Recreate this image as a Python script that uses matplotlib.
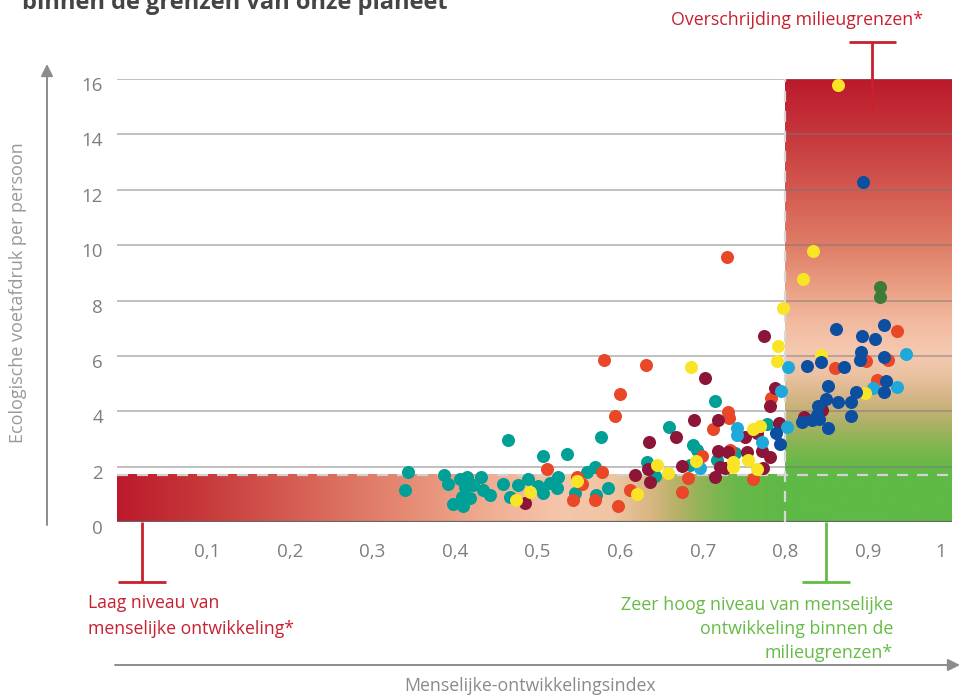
import matplotlib
matplotlib.use('Agg')
import matplotlib.pyplot as plt
import numpy as np
from matplotlib.colors import LinearSegmentedColormap
import matplotlib.transforms as mtransforms
from matplotlib.lines import Line2D

plt.rcParams['font.family'] = ['Open Sans', 'DejaVu Sans']

# ---------------- data ----------------
teal_hdi = [0.343, 0.340, 0.387, 0.392, 0.406, 0.415, 0.432, 0.412, 0.422, 0.434, 0.442,
            0.398, 0.410, 0.409, 0.418, 0.464, 0.458, 0.467, 0.476, 0.488, 0.501, 0.515,
            0.507, 0.523, 0.525, 0.507, 0.536, 0.560, 0.570, 0.545, 0.571, 0.585, 0.577,
            0.633, 0.659, 0.715, 0.688, 0.693, 0.685, 0.642, 0.739, 0.778, 0.717]
teal_fp = [1.81, 1.16, 1.70, 1.37, 1.55, 1.62, 1.62, 1.26, 1.34, 1.16, 0.97,
           0.65, 0.58, 0.90, 0.87, 2.96, 1.37, 0.90, 1.34, 1.55, 1.30, 1.41,
           1.05, 1.23, 1.62, 2.38, 2.45, 1.81, 1.99, 1.05, 0.97, 1.23, 3.07,
           2.17, 3.43, 4.37, 2.78, 2.60, 2.06, 1.66, 2.49, 3.54, 2.24]

red_hdi = [0.600, 0.594, 0.581, 0.631, 0.511, 0.578, 0.554, 0.543, 0.570, 0.597, 0.612,
           0.548, 0.675, 0.682, 0.713, 0.731, 0.732, 0.699, 0.761, 0.733, 0.783, 0.729,
           0.860, 0.898, 0.924, 0.935, 0.911]
red_fp = [4.62, 3.83, 5.85, 5.67, 1.91, 1.81, 1.37, 0.79, 0.79, 0.58, 1.16,
          1.62, 1.08, 1.59, 3.36, 3.97, 3.75, 2.38, 1.55, 2.60, 4.48, 9.57,
          5.56, 5.81, 5.85, 6.90, 5.13]

yellow_hdi = [0.864, 0.834, 0.821, 0.797, 0.791, 0.790, 0.686, 0.843, 0.896, 0.761, 0.769,
              0.737, 0.737, 0.755, 0.766, 0.692, 0.658, 0.645, 0.620, 0.548, 0.491, 0.474]
yellow_fp = [15.78, 9.78, 8.77, 7.73, 6.35, 5.81, 5.60, 6.03, 4.66, 3.36, 3.47,
             2.17, 1.99, 2.24, 1.91, 2.20, 1.77, 2.06, 1.01, 1.48, 1.08, 0.79]

maroon_hdi = [0.774, 0.703, 0.787, 0.781, 0.690, 0.719, 0.668, 0.635, 0.751, 0.766, 0.792,
              0.719, 0.731, 0.754, 0.772, 0.781, 0.721, 0.727, 0.773, 0.675, 0.634, 0.618,
              0.636, 0.715, 0.485, 0.823, 0.844]
maroon_fp = [6.71, 5.20, 4.84, 4.19, 3.68, 3.68, 3.07, 2.89, 3.07, 3.21, 3.57,
             2.56, 2.53, 2.53, 2.56, 2.35, 1.99, 1.95, 1.95, 2.02, 1.91, 1.70,
             1.44, 1.62, 0.69, 3.79, 4.04]

cyan_hdi = [0.803, 0.946, 0.795, 0.906, 0.935, 0.802, 0.741, 0.741, 0.772, 0.697]
cyan_fp = [5.60, 6.06, 4.73, 4.84, 4.87, 3.43, 3.39, 3.14, 2.89, 1.95]

blue_hdi = [0.894, 0.861, 0.920, 0.893, 0.908, 0.892, 0.890, 0.920, 0.843, 0.826, 0.871,
            0.852, 0.922, 0.919, 0.885, 0.849, 0.864, 0.880, 0.840, 0.838, 0.832, 0.820,
            0.841, 0.880, 0.852, 0.789, 0.793]
blue_fp = [12.27, 6.97, 7.11, 6.71, 6.61, 6.14, 5.85, 5.96, 5.78, 5.63, 5.60,
           4.91, 5.09, 4.69, 4.69, 4.44, 4.33, 4.33, 4.19, 3.86, 3.68, 3.61,
           3.72, 3.83, 3.39, 3.21, 2.82]

green_hdi = [0.915, 0.915]
green_fp = [8.48, 8.12]

x_tick_values = [0.1, 0.2, 0.3, 0.4, 0.5, 0.6, 0.7, 0.8, 0.9, 1.0]
x_tick_labels = ['0,1', '0,2', '0,3', '0,4', '0,5', '0,6', '0,7', '0,8', '0,9', '1']
y_tick_values = [0, 2, 4, 6, 8, 10, 12, 14, 16]
y_tick_labels = ['0', '2', '4', '6', '8', '10', '12', '14', '16']

biocapacity = 1.7
hdi_threshold = 0.8

# ---------------- figure ----------------
W, H = 960, 698
fig = plt.figure(figsize=(W / 100, H / 100), dpi=100)
ax_left, ax_right, ax_top, ax_bottom = 117, 952, 79, 522
ax = fig.add_axes([ax_left / W, (H - ax_bottom) / H,
                   (ax_right - ax_left) / W, (ax_bottom - ax_top) / H])
x0, x1 = -0.0091, 1.0018
ax.set_xlim(x0, x1)
ax.set_ylim(0, 16)
for s in ax.spines.values():
    s.set_visible(False)

# gradient bottom band (low footprint)
band_cmap = LinearSegmentedColormap.from_list('band', [
    (0.00, '#bc1a2c'), (0.12, '#c63739'), (0.30, '#d9675a'), (0.45, '#e78f77'),
    (0.57, '#f0b196'), (0.66, '#f5c5ab'), (0.74, '#efc6a3'), (0.80, '#d8b682'),
    (0.84, '#b6b167'), (0.88, '#8cb456'), (0.93, '#68b84a'), (1.00, '#5fb946')])
grad = np.linspace(0, 1, 512).reshape(1, -1)
ax.imshow(grad, extent=[x0, hdi_threshold, 0, biocapacity], cmap=band_cmap,
          aspect='auto', zorder=1, origin='lower', interpolation='bicubic')

# gradient right region (high HDI)
right_cmap = LinearSegmentedColormap.from_list('right', [
    (0.00, '#5fb946'), (0.10, '#5fb946'), (0.13, '#68b849'), (0.17, '#82b651'),
    (0.21, '#a2b25f'), (0.25, '#c4b176'), (0.29, '#d9b78a'), (0.33, '#ebc2a2'),
    (0.38, '#f5c9b1'), (0.45, '#f2bba0'), (0.52, '#eba387'), (0.63, '#de7b65'),
    (0.76, '#d2574f'), (0.88, '#c6363c'), (1.00, '#bb1a2b')])
grad_v = np.linspace(0, 1, 512).reshape(-1, 1)
ax.imshow(grad_v, extent=[hdi_threshold, x1, 0, 16], cmap=right_cmap,
          aspect='auto', zorder=1, origin='lower', interpolation='bicubic')

# gridlines
for v in y_tick_values[1:]:
    ax.axhline(v, color='#777777', alpha=0.5, lw=1.3, zorder=2)
ax.axhline(0, color='#666666', lw=1.6, zorder=3)

# dashed reference lines
ax.plot([x0, x1], [biocapacity, biocapacity], color='#d2d2d2', lw=1.6,
        dashes=(5, 4), zorder=3)
ax.plot([hdi_threshold, hdi_threshold], [0, 16], color='#d8d8d8', lw=1.6,
        dashes=(5, 4), zorder=3)

# points
ms = 88
ax.scatter(teal_hdi, teal_fp, s=ms, color='#00a096', lw=0, zorder=5)
ax.scatter(red_hdi, red_fp, s=ms, color='#ea4628', lw=0, zorder=5)
ax.scatter(maroon_hdi, maroon_fp, s=ms, color='#8c1538', lw=0, zorder=5)
ax.scatter(cyan_hdi, cyan_fp, s=ms, color='#1fa9db', lw=0, zorder=5)
ax.scatter(yellow_hdi, yellow_fp, s=ms, color='#f9e526', lw=0, zorder=6)
ax.scatter(blue_hdi, blue_fp, s=ms, color='#0c4ea0', lw=0, zorder=6)
ax.scatter(green_hdi, green_fp, s=ms, color='#3e7a38', lw=0, zorder=6)

# ticks
tick_color = '#7f7f7f'
ax.set_xticks(x_tick_values)
ax.set_xticklabels(x_tick_labels, fontsize=13.5, color=tick_color)
ax.set_yticks(y_tick_values)
ax.set_yticklabels(y_tick_labels, fontsize=13.5, color=tick_color)
ax.tick_params(axis='x', length=0, pad=15)
ax.tick_params(axis='y', length=0, pad=10)
for lab in ax.get_yticklabels():
    lab.set_transform(lab.get_transform() +
                      mtransforms.ScaledTranslation(0, -0.05, fig.dpi_scale_trans))
last = ax.get_xticklabels()[-1]
last.set_transform(last.get_transform() +
                   mtransforms.ScaledTranslation(-0.10, 0, fig.dpi_scale_trans))

# outer axis arrows (figure pixels)
arrow_col = '#8c8c8c'
ax.annotate('', xy=(47, H - 64), xytext=(47, H - 525), xycoords='figure pixels',
            textcoords='figure pixels',
            arrowprops=dict(arrowstyle='-|>', color=arrow_col, lw=1.4,
                            mutation_scale=18, shrinkA=0, shrinkB=0))
ax.annotate('', xy=(960, H - 665), xytext=(115, H - 665), xycoords='figure pixels',
            textcoords='figure pixels',
            arrowprops=dict(arrowstyle='-|>', color=arrow_col, lw=1.4,
                            mutation_scale=18, shrinkA=0, shrinkB=0))

fig.text(18 / W, 1 - 293 / H, 'Ecologische voetafdruk per persoon', rotation=90,
         ha='center', va='center', fontsize=13, color='#999999')
fig.text(530 / W, 1 - 686 / H, 'Menselijke-ontwikkelingsindex',
         ha='center', va='center', fontsize=12.8, color='#8a8a8a')

# title (cut off at top, as in the source)
fig.text(22 / W, 1 - 9 / H, 'binnen de grenzen van onze planeet', ha='left',
         va='baseline', fontsize=17, fontweight='bold', color='#454545')

# annotations
red_c = '#c8202f'
green_c = '#66bb46'
ident = mtransforms.IdentityTransform()

def pline(xs, ys, color):
    fig.add_artist(Line2D(xs, [H - y for y in ys], transform=ident, color=color,
                          lw=2, solid_capstyle='butt'))

pline([142, 142], [522, 582], red_c)
pline([118, 166], [582, 582], red_c)
fig.text(88 / W, 1 - 616 / H, 'Laag niveau van\nmenselijke ontwikkeling*',
         ha='left', va='center', fontsize=12.7, color=red_c, linespacing=1.5)

pline([826, 826], [522, 582], green_c)
pline([802, 850], [582, 582], green_c)
fig.text(893 / W, 1 - 629 / H,
         'Zeer hoog niveau van menselijke\nontwikkeling binnen de\nmilieugrenzen*',
         ha='right', va='center', fontsize=12.9, color=green_c, linespacing=1.45)

pline([849, 896], [42, 42], red_c)
pline([872, 872], [42, 109], red_c)
fig.text(797 / W, 1 - 20 / H, 'Overschrijding milieugrenzen*', ha='center',
         va='center', fontsize=12.8, color=red_c)

fig.savefig('out.png', dpi=100)
